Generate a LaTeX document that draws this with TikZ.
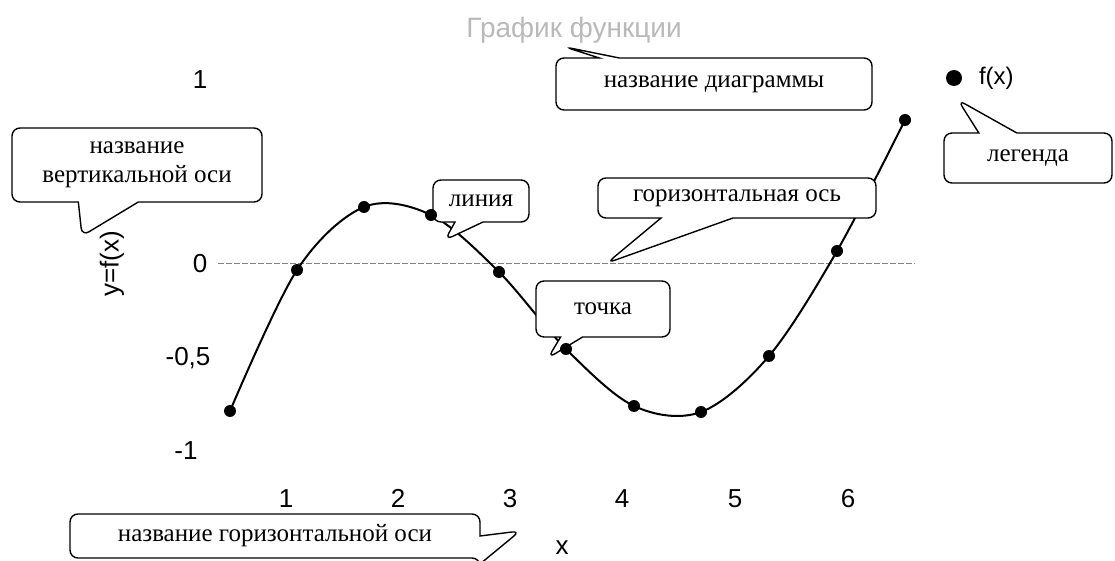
\documentclass[tikz,border=0pt]{standalone}
\usepackage{fontspec}
\setmainfont{Liberation Serif}
\setsansfont{Liberation Sans}
\usetikzlibrary{shapes.callouts}

\begin{document}
\begin{tikzpicture}[x=0.5pt, y=-0.5pt, font=\sffamily]
    \tikzset{
      bubble/.style={rectangle callout, draw, fill=white, line width=0.7pt,
                     rounded corners=4pt, inner sep=2pt, align=center,
                     font=\rmfamily\fontsize{12.5}{14.5}\selectfont},
      tick/.style={font=\sffamily\fontsize{13}{15}\selectfont},
      xtick/.style={tick, anchor=base},
      dot/.style={circle, fill=black, inner sep=0pt, minimum size=6pt},
      axis/.style={gray, line width=0.5pt, dash pattern=on 3pt off 1pt},
    }
    \useasboundingbox (0,0) rectangle (1115,561);

    % title and axis labels
    \node[font=\sffamily\fontsize{14}{16}\selectfont, text=gray!55] (ttl) at (574,30) {График функции};
    \node[tick] (y1) at (200,80) {1};
    \node[tick] (y0) at (200,264) {0};
    \node[tick] (ym5) at (188,358) {-0,5};
    \node[tick] (ym1) at (186,451) {-1};
    \node[xtick] (x1) at (286,508) {1};
    \node[xtick] (x2) at (398,508) {2};
    \node[xtick] (x3) at (510,508) {3};
    \node[xtick] (x4) at (622,508) {4};
    \node[xtick] (x5) at (735,508) {5};
    \node[xtick] (x6) at (848,508) {6};
    \node[tick, rotate=90] (ylab) at (112,264) {y=f(x)};
    \node[tick] (xlab) at (562,548) {x};

    % horizontal axis
    \coordinate (ax0) at (218,264);
    \coordinate (ax1) at (915,264);
    \draw[axis] (ax0) -- (ax1);

    % data points
    \coordinate (p1) at (230,411);
    \coordinate (p2) at (297,270);
    \coordinate (p3) at (364,207);
    \coordinate (p4) at (431,215);
    \coordinate (p5) at (499,272);
    \coordinate (p6) at (566,349);
    \coordinate (p7) at (634,406);
    \coordinate (p8) at (701,412);
    \coordinate (p9) at (769,356);
    \coordinate (p10) at (837,251);
    \coordinate (p11) at (905,120);
    \draw[line width=1pt] plot[smooth, tension=0.55] coordinates
      {(p1) (p2) (p3) (p4) (p5) (p6) (p7) (p8) (p9) (p10) (p11)};

    % legend
    \node[dot, minimum size=8pt] (ldot) at (954,78) {};
    \node[tick, anchor=west, font=\sffamily\fontsize{12}{14}\selectfont] (ltxt) at (972,78) {f(x)};

    % callouts
    \node[bubble, minimum width=125pt, minimum height=37pt, callout pointer width=30pt,
          callout absolute pointer={(82,236)}] (cvert) at (137,165) {название\\вертикальной оси};
    \node[bubble, minimum width=48pt, minimum height=21pt, callout pointer width=14pt,
          callout absolute pointer={(445,240)}] (cline) at (481,201) {линия};
    \node[bubble, minimum width=139pt, minimum height=20pt, callout pointer width=36pt,
          callout absolute pointer={(607,263)}] (chax) at (737,198) {горизонтальная ось};
    \node[bubble, minimum width=67pt, minimum height=28pt, callout pointer width=11pt,
          callout absolute pointer={(548,358)}] (cpnt) at (603,309) {точка};
    \node[bubble, minimum width=158pt, minimum height=26pt, callout pointer width=10pt,
          callout absolute pointer={(565,47)}] (cdiag) at (714,84) {название диаграммы};
    \node[bubble, minimum width=84pt, minimum height=25pt, callout pointer width=19pt,
          callout absolute pointer={(958,100)}] (cleg) at (1028,158) {легенда};
    \node[bubble, minimum width=205pt, minimum height=22pt, callout pointer width=14pt,
          callout absolute pointer={(520,531)}] (chname) at (275,536) {название горизонтальной оси};

    % dots on top
    \foreach \p in {p1,p2,p3,p4,p5,p6,p7,p8,p9,p10,p11}
      \node[dot] at (\p) {};
  \end{tikzpicture}
\end{document}
